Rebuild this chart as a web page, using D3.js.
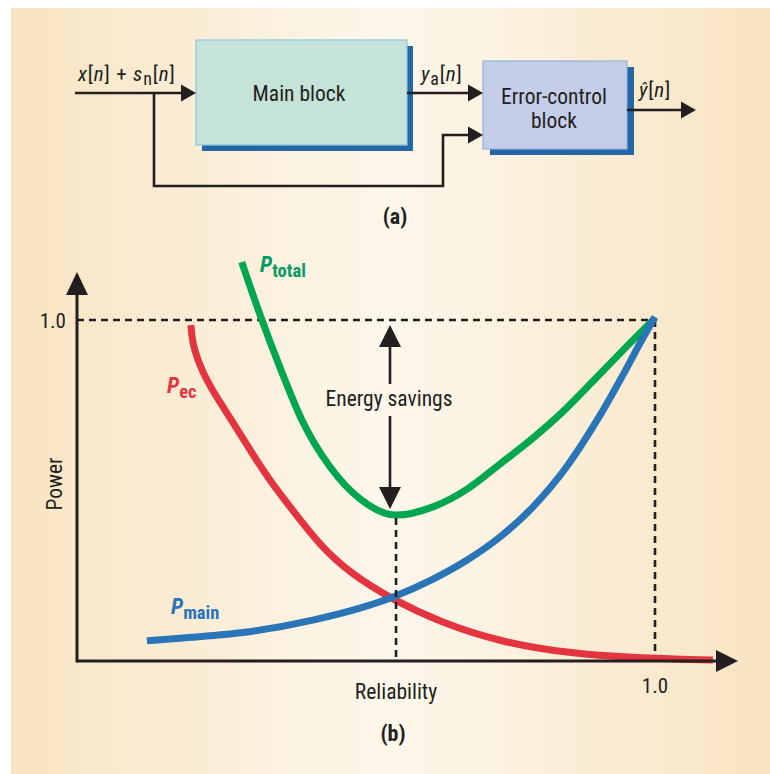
<!DOCTYPE html>
<html><head><meta charset="utf-8">
<script src="https://cdn.jsdelivr.net/npm/d3@7"></script>
<style>body{margin:0;background:#fff}svg{display:block}</style>
</head><body>
<script>
// ---- data (reliability, power), normalised so that 1.0 = reference point ----
const pTotalX = [0.285,0.320,0.353,0.389,0.438,0.490,0.552,0.616,0.675,0.732,0.789,0.836,0.893,0.952,0.983,1.000];
const pTotalY = [1.170,1.000,0.853,0.707,0.569,0.475,0.428,0.452,0.504,0.578,0.654,0.724,0.821,0.924,0.977,1.006];
const pEcX = [0.197,0.199,0.202,0.216,0.237,0.265,0.296,0.330,0.374,0.420,0.472,0.547,0.628,0.732,0.848,0.962,1.100];
const pEcY = [0.985,0.950,0.918,0.850,0.786,0.713,0.628,0.537,0.440,0.340,0.258,0.179,0.114,0.056,0.023,0.009,0.003];
const pMainX = [0.121,0.178,0.294,0.408,0.495,0.547,0.616,0.675,0.732,0.789,0.848,0.905,0.952,0.979,1.000];
const pMainY = [0.059,0.067,0.085,0.120,0.158,0.188,0.240,0.296,0.364,0.452,0.572,0.721,0.862,0.947,1.009];
const tickLabels = ["1.0"];
const optimumX = 0.552;

const FONT = "'Liberation Sans Narrow','Roboto Condensed','Arial Narrow','Liberation Sans',sans-serif";
const INK = "#231f20";
const W = 770, H = 774;

const svg = d3.select("body").append("svg").attr("width", W).attr("height", H)
  .style("font-family", FONT);
const defs = svg.append("defs");
const grad = defs.append("linearGradient").attr("id", "bg").attr("x1", 0).attr("x2", 1).attr("y1", 0).attr("y2", 0);
grad.append("stop").attr("offset", "0%").attr("stop-color", "#f8e4c2");
grad.append("stop").attr("offset", "50%").attr("stop-color", "#fdf7eb");
grad.append("stop").attr("offset", "100%").attr("stop-color", "#f8e4c2");
svg.append("rect").attr("x", 11).attr("y", 8).attr("width", W - 11).attr("height", H - 8).attr("fill", "url(#bg)");

function arrowHead(g, tipX, tipY, dir, len, half) {
  let pts;
  if (dir === "right") pts = [[tipX, tipY], [tipX - len, tipY - half], [tipX - len, tipY + half]];
  if (dir === "up") pts = [[tipX, tipY], [tipX - half, tipY + len], [tipX + half, tipY + len]];
  if (dir === "down") pts = [[tipX, tipY], [tipX - half, tipY - len], [tipX + half, tipY - len]];
  g.append("path").attr("d", "M" + pts.map(p => p.join(",")).join("L") + "Z").attr("fill", INK);
}

// ================= (a) block diagram =================
const gA = svg.append("g");
gA.append("rect").attr("x", 202).attr("y", 46).attr("width", 211).attr("height", 105).attr("fill", "#2466a6");
gA.append("rect").attr("x", 490).attr("y", 67).attr("width", 144).attr("height", 88).attr("fill", "#2466a6");
gA.append("rect").attr("x", 196).attr("y", 40).attr("width", 211).attr("height", 105)
  .attr("fill", "#c5e3d8").attr("stroke", "#8cc6dc").attr("stroke-width", 1.2);
gA.append("rect").attr("x", 483).attr("y", 61).attr("width", 144).attr("height", 88)
  .attr("fill", "#c4cde9").attr("stroke", "#8fb2dc").attr("stroke-width", 1.2);

const wire = (d) => gA.append("path").attr("d", d).attr("fill", "none").attr("stroke", INK).attr("stroke-width", 2.6);
wire("M75,93H182");
arrowHead(gA, 196, 93, "right", 15, 8.5);
wire("M154,93V186H443V135H469");
arrowHead(gA, 483, 135, "right", 15, 8.5);
wire("M407,93H469");
arrowHead(gA, 483, 93, "right", 15, 8.5);
wire("M627,110H682");
arrowHead(gA, 696, 110, "right", 15, 8.5);

const t1 = gA.append("text").attr("x", 78).attr("y", 81).attr("font-size", 21).attr("letter-spacing", 0.8).attr("fill", INK);
t1.append("tspan").attr("font-style", "italic").text("x");
t1.append("tspan").text("[");
t1.append("tspan").attr("font-style", "italic").text("n");
t1.append("tspan").text("] + ");
t1.append("tspan").attr("font-style", "italic").text("s");
t1.append("tspan").attr("dy", 4).attr("font-size", 18).text("n");
t1.append("tspan").attr("dy", -4).text("[");
t1.append("tspan").attr("font-style", "italic").text("n");
t1.append("tspan").text("]");

gA.append("text").attr("x", 299).attr("y", 101).attr("text-anchor", "middle").attr("font-size", 21.5).attr("fill", INK).text("Main block");

const t2 = gA.append("text").attr("x", 421).attr("y", 81).attr("font-size", 21).attr("letter-spacing", 0.8).attr("fill", INK);
t2.append("tspan").attr("font-style", "italic").text("y");
t2.append("tspan").attr("dy", 4).attr("font-size", 18).text("a");
t2.append("tspan").attr("dy", -4).text("[");
t2.append("tspan").attr("font-style", "italic").text("n");
t2.append("tspan").text("]");

gA.append("text").attr("x", 554).attr("y", 104).attr("text-anchor", "middle").attr("font-size", 21.5).attr("fill", INK).text("Error-control");
gA.append("text").attr("x", 554).attr("y", 128).attr("text-anchor", "middle").attr("font-size", 21.5).attr("fill", INK).text("block");

const t3 = gA.append("text").attr("x", 639).attr("y", 97).attr("font-size", 21).attr("letter-spacing", 0.8).attr("fill", INK);
t3.append("tspan").attr("font-style", "italic").text("ŷ");
t3.append("tspan").text("[");
t3.append("tspan").attr("font-style", "italic").text("n");
t3.append("tspan").text("]");

gA.append("text").attr("x", 395).attr("y", 224).attr("text-anchor", "middle").attr("font-size", 22)
  .attr("font-weight", "bold").attr("fill", INK).text("(a)");

// ================= (b) power vs reliability =================
const x = d3.scaleLinear().domain([0, 1]).range([77, 655]);
const y = d3.scaleLinear().domain([0, 1]).range([661, 320]);
const gB = svg.append("g");

const dash = (x1, y1, x2, y2) => gB.append("line").attr("x1", x1).attr("y1", y1).attr("x2", x2).attr("y2", y2)
  .attr("stroke", INK).attr("stroke-width", 2.6).attr("stroke-dasharray", "7,5");
dash(x(0), y(1), x(1), y(1));
dash(x(1), y(1), x(1), y(0));

const lineMono = d3.line().x(d => x(d[0])).y(d => y(d[1])).curve(d3.curveMonotoneX);
const lineSmooth = d3.line().x(d => x(d[0])).y(d => y(d[1])).curve(d3.curveBasis);
const series = [
  { xs: pEcX, ys: pEcY, color: "#e3343f", gen: lineSmooth },
  { xs: pTotalX, ys: pTotalY, color: "#00a650", gen: lineMono },
  { xs: pMainX, ys: pMainY, color: "#2a74b8", gen: lineMono }
];
series.forEach(s => {
  gB.append("path").datum(d3.zip(s.xs, s.ys)).attr("d", s.gen)
    .attr("fill", "none").attr("stroke", s.color).attr("stroke-width", 7).attr("stroke-linecap", "butt");
});

const iMin = d3.minIndex(pTotalY);
dash(x(optimumX), y(pTotalY[iMin]) + 3, x(optimumX), y(0));

// axes
gB.append("path").attr("d", `M${x(0)},${y(0)}H717`).attr("stroke", INK).attr("stroke-width", 3).attr("fill", "none");
arrowHead(gB, 738, y(0), "right", 22, 11);
gB.append("path").attr("d", `M${x(0)},${y(0) + 1.5}V294`).attr("stroke", INK).attr("stroke-width", 3).attr("fill", "none");
arrowHead(gB, x(0), 272, "up", 23, 11);

// tick labels
gB.append("text").attr("x", 66).attr("y", y(1) + 8).attr("text-anchor", "end").attr("font-size", 21).attr("fill", INK).text(tickLabels[0]);
gB.append("text").attr("x", x(1)).attr("y", 693).attr("text-anchor", "middle").attr("font-size", 21).attr("fill", INK).text(tickLabels[0]);

// axis titles
gB.append("text").attr("x", 396).attr("y", 699).attr("text-anchor", "middle").attr("font-size", 21.5).attr("fill", INK).text("Reliability");
gB.append("text").attr("transform", "translate(62,484) rotate(-90)").attr("text-anchor", "middle").attr("font-size", 21.5).attr("fill", INK).text("Power");
gB.append("text").attr("x", 393).attr("y", 741).attr("text-anchor", "middle").attr("font-size", 22)
  .attr("font-weight", "bold").attr("fill", INK).text("(b)");

// energy savings arrow
const ax = 390;
gB.append("line").attr("x1", ax).attr("x2", ax).attr("y1", 345).attr("y2", 384).attr("stroke", INK).attr("stroke-width", 2.6);
arrowHead(gB, ax, y(1) + 5, "up", 22, 11);
gB.append("line").attr("x1", ax).attr("x2", ax).attr("y1", 416).attr("y2", 490).attr("stroke", INK).attr("stroke-width", 2.6);
arrowHead(gB, ax, y(pTotalY[iMin]) - 6, "down", 22, 11);
gB.append("text").attr("x", 389).attr("y", 406).attr("text-anchor", "middle").attr("font-size", 21.5).attr("fill", INK).text("Energy savings");

// series labels
function seriesLabel(px, py, sub, color) {
  const t = gB.append("text").attr("x", px).attr("y", py).attr("fill", color).attr("font-weight", "bold").attr("font-size", 22);
  t.append("tspan").attr("font-style", "italic").text("P");
  t.append("tspan").attr("dy", 5).attr("font-size", 18.5).text(sub);
}
seriesLabel(260, 272, "total", "#0a9a66");
seriesLabel(167, 393, "ec", "#e3343f");
seriesLabel(171, 614, "main", "#2a74b8");
</script>
</body></html>
